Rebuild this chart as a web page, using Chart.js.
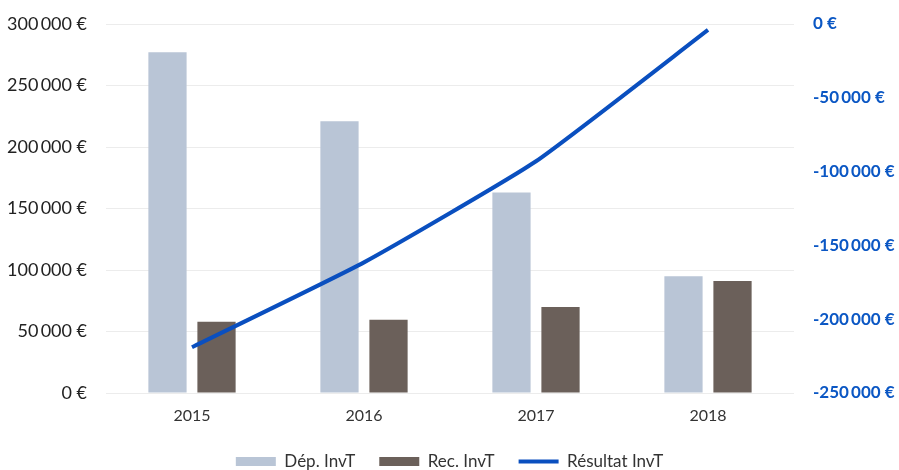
<!DOCTYPE html>
<html><head><meta charset="utf-8">
<script src="https://cdn.jsdelivr.net/npm/chart.js@4/dist/chart.umd.min.js"></script>
<style>html,body{margin:0;padding:0;background:#fff}#wrap{width:899px;height:470px}</style>
</head><body><div id="wrap"><canvas id="c" width="899" height="470"></canvas></div>
<script>
const categories = ['2015','2016','2017','2018'];
const depInvT = [277000, 221000, 163000, 95000];
const recInvT = [58000, 59500, 70000, 91000];
const resultatInvT = [-219000, -161500, -93000, -4000];
const leftTicks = [0, 50000, 100000, 150000, 200000, 250000, 300000];
const rightTicks = [-250000, -200000, -150000, -100000, -50000, 0];

function fmt(v){
  const neg = v < 0; let s = String(Math.abs(v));
  s = s.replace(/\B(?=(\d{3})+(?!\d))/g, '\u2009');
  return (neg ? '-' : '') + s + ' €';
}

new Chart(document.getElementById('c'), {
  data: {
    labels: categories,
    datasets: [
      { type: 'line', label: 'Résultat InvT', data: resultatInvT, yAxisID: 'y2',
        borderColor: '#0a4fbf', backgroundColor: '#0a4fbf', borderWidth: 4,
        pointRadius: 0, pointStyle: 'line', tension: 0.15, order: 0 },
      { type: 'bar', label: 'Dép. InvT', data: depInvT, yAxisID: 'y', pointStyle: 'rect',
        backgroundColor: '#b9c5d6', categoryPercentage: 0.57, barPercentage: 0.78, order: 1 },
      { type: 'bar', label: 'Rec. InvT', data: recInvT, yAxisID: 'y', pointStyle: 'rect',
        backgroundColor: '#6b605a', categoryPercentage: 0.57, barPercentage: 0.78, order: 1 }
    ]
  },
  options: {
    responsive: false, animation: false,
    layout: { padding: { top: 24, left: 4, right: 4, bottom: 0 } },
    plugins: {
      tooltip: { enabled: false },
      legend: {
        position: 'bottom', maxHeight: 41,
        labels: {
          font: { family: 'Lato', size: 17 }, color: '#333',
          usePointStyle: true, pointStyleWidth: 40, boxHeight: 9, padding: 24,
          sort: (a, b) => {
            const ord = {'Dép. InvT':0,'Rec. InvT':1,'Résultat InvT':2};
            return ord[a.text] - ord[b.text];
          }
        }
      }
    },
    scales: {
      x: {
        grid: { display: false }, border: { display: false },
        afterFit: ax => { ax.height = 36; ax.paddingLeft = 0; ax.paddingRight = 0; },
        ticks: { font: { family: 'Lato', size: 16 }, color: '#333', padding: 5 }
      },
      y: {
        position: 'left', min: 0, max: 300000,
        afterBuildTicks: ax => { ax.ticks = leftTicks.map(v => ({ value: v })); },
        afterFit: ax => { ax.width = 102; ax.paddingTop = 0; ax.paddingBottom = 0; },
        grid: { color: '#ececec', lineWidth: 1, drawTicks: false },
        border: { display: false },
        ticks: { font: { family: 'Lato', size: 18 }, color: '#222', padding: 19, callback: v => fmt(v) }
      },
      y2: {
        position: 'right', min: -250000, max: 0,
        afterBuildTicks: ax => { ax.ticks = rightTicks.map(v => ({ value: v })); },
        afterFit: ax => { ax.width = 101; ax.paddingTop = 0; ax.paddingBottom = 0; },
        grid: { display: false, drawTicks: false },
        border: { display: false },
        ticks: { font: { family: 'Lato', size: 17, weight: 'bold' }, color: '#0b57c4', padding: 19, callback: v => fmt(v) }
      }
    }
  }
});
</script></body></html>
